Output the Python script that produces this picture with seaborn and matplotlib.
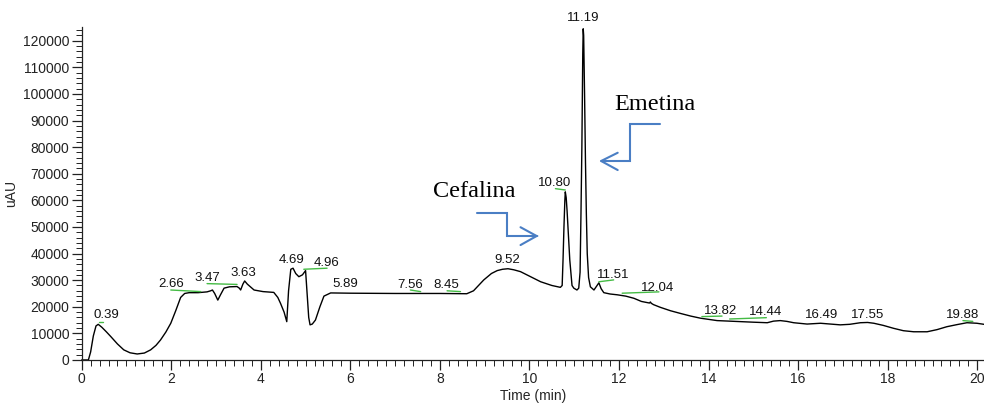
import numpy as np
import pandas as pd
import matplotlib
matplotlib.use('Agg')
import matplotlib.pyplot as plt
from matplotlib.ticker import MultipleLocator, StrMethodFormatter
import seaborn as sns

# Chromatogram trace (time in min, signal in uAU)
time = [
    0.00, 0.15, 0.20, 0.26, 0.32, 0.37, 0.45, 0.55, 0.65, 0.80,
    0.94, 1.08, 1.24, 1.40, 1.54, 1.66, 1.76, 1.88, 1.99, 2.10,
    2.21, 2.30, 2.40, 2.60, 2.80, 2.88, 2.92, 2.97, 3.04, 3.10,
    3.18, 3.30, 3.47, 3.52, 3.55, 3.60, 3.64, 3.70, 3.85, 4.05,
    4.29, 4.38, 4.44, 4.52, 4.58, 4.62, 4.67, 4.72, 4.78, 4.85,
    4.93, 5.00, 5.03, 5.07, 5.10, 5.15, 5.22, 5.32, 5.41, 5.56,
    6.00, 7.00, 8.00, 8.60, 8.75, 8.98, 9.15, 9.28, 9.40, 9.52,
    9.65, 9.80, 10.00, 10.25, 10.50, 10.69, 10.73, 10.75, 10.77, 10.79,
    10.80, 10.82, 10.84, 10.86, 10.90, 10.95, 10.99, 11.06, 11.10, 11.13,
    11.15, 11.17, 11.19, 11.20, 11.21, 11.23, 11.25, 11.27, 11.29, 11.32,
    11.36, 11.44, 11.50, 11.55, 11.60, 11.66, 11.80, 11.96, 12.15, 12.33,
    12.50, 12.68, 12.70, 12.72, 12.77, 12.92, 13.15, 13.37, 13.60, 13.82,
    14.19, 14.45, 14.71, 15.00, 15.31, 15.45, 15.60, 15.75, 15.90, 16.20,
    16.50, 16.94, 17.15, 17.39, 17.55, 17.69, 17.90, 18.13, 18.35, 18.58,
    18.88, 19.10, 19.32, 19.55, 19.77, 19.99, 20.15,
]
signal = [
    0, 0, 3000, 9000, 12800, 13400, 12300, 10600, 8800, 6000,
    3800, 2700, 2250, 2600, 3800, 5500, 7500, 10500, 13800, 18500,
    23500, 25000, 25300, 25300, 25600, 26000, 26300, 25000, 22500, 24500,
    27000, 27500, 27600, 27000, 26300, 28500, 29700, 28500, 26300, 25700,
    25400, 23500, 21300, 18000, 14400, 26000, 34100, 34500, 32500, 31300,
    32000, 33600, 26000, 16000, 13200, 13500, 15000, 20000, 24000, 25200,
    25100, 25000, 25000, 24900, 26000, 30100, 32500, 33600, 34100, 34300,
    33900, 33200, 31500, 29400, 28000, 27300, 28000, 38000, 50000, 60000,
    63200, 61000, 56000, 50000, 37600, 28000, 27000, 26300, 27000, 33000,
    55000, 80000, 115000, 124500, 122000, 100000, 75000, 55000, 40000, 31000,
    27500, 26300, 27800, 29000, 26800, 25300, 24800, 24500, 24000, 23200,
    22000, 21400, 21800, 21300, 20800, 19800, 18500, 17500, 16500, 15700,
    14800, 14600, 14400, 14200, 14000, 14600, 14800, 14500, 14000, 13500,
    13800, 13200, 13400, 14000, 14100, 13800, 13000, 11900, 11000, 10600,
    10600, 11400, 12500, 13300, 14000, 13800, 13400,
]

# Peak retention-time labels and where their text sits
peak_labels = ['0.39', '2.66', '3.47', '3.63', '4.69', '4.96', '5.89', '7.56',
               '8.45', '9.52', '10.80', '11.19', '11.51', '12.04', '13.82',
               '14.44', '16.49', '17.55', '19.88']
label_x = [0.55, 1.99, 2.81, 3.62, 4.68, 5.47, 5.89, 7.33, 8.14, 9.51,
           10.57, 11.19, 11.87, 12.87, 14.27, 15.27, 16.52, 17.55, 19.68]
label_y = [16800, 28400, 30700, 32700, 37600, 36500, 28500, 28200, 28200,
           37600, 66500, 128500, 32000, 27200, 18500, 17900, 16900, 16900,
           16900]

# Green integration baselines (start time, end time, start level, end level)
base_t0 = [0.38, 1.99, 2.80, 4.96, 7.34, 8.16, 10.58, 11.55, 12.07, 13.85, 14.47, 19.68]
base_t1 = [0.47, 2.66, 3.47, 5.48, 7.57, 8.46, 10.80, 11.88, 12.89, 14.30, 15.29, 19.90]
base_y0 = [14400, 26300, 28700, 34100, 26300, 26000, 64400, 29400, 25100, 16300, 15400, 14800]
base_y1 = [14400, 25700, 28400, 34500, 25700, 25700, 63900, 30100, 25600, 16500, 15900, 14500]

# Compound names with callout arrows
compounds = ['Cefalina', 'Emetina']
compound_x = [8.77, 12.79]
compound_y = [63200, 96200]
arrow_path_t = [[8.82, 9.49, 9.49, 10.16], [12.91, 12.24, 12.24, 11.60]]
arrow_path_y = [[55150, 55150, 46500, 46500], [88600, 88600, 74800, 74800]]
arrow_wing_t = [[9.80, 10.16, 9.80], [11.97, 11.60, 11.97]]
arrow_wing_y = [[49900, 46600, 43200], [77900, 74800, 71400]]

df = pd.DataFrame({'time': time, 'signal': signal})

sns.set_theme(style='ticks')
plt.rcParams['font.family'] = ['Liberation Sans', 'DejaVu Sans']

fig = plt.figure(figsize=(9.84, 4.04), dpi=100)
ax = fig.add_axes([0.083, 0.109, 0.917, 0.823])

sns.lineplot(data=df, x='time', y='signal', color='black', linewidth=1.0,
             estimator=None, sort=False, ax=ax, clip_on=False)

for t0, t1, y0, y1 in zip(base_t0, base_t1, base_y0, base_y1):
    ax.plot([t0, t1], [y0, y1], color='#44bb44', linewidth=1.0)

for lab, lx, ly in zip(peak_labels, label_x, label_y):
    ax.text(lx, ly, lab, ha='center', va='center', fontsize=9.5, color='#111111')

blue = '#4a7ec4'
for name, cx, cy, pt, py, wt, wy in zip(compounds, compound_x, compound_y,
                                        arrow_path_t, arrow_path_y,
                                        arrow_wing_t, arrow_wing_y):
    ax.text(cx, cy, name, ha='center', va='center', fontsize=17.5,
            family=['Liberation Serif', 'DejaVu Serif'], color='black')
    ax.plot(pt, py, color=blue, linewidth=1.5, solid_joinstyle='miter')
    ax.plot(wt, wy, color=blue, linewidth=1.5, solid_joinstyle='miter')

ax.set_xlim(0, 20.15)
ax.set_ylim(0, 125000)
ax.xaxis.set_major_locator(MultipleLocator(2))
ax.xaxis.set_minor_locator(MultipleLocator(0.2))
ax.yaxis.set_major_locator(MultipleLocator(10000))
ax.yaxis.set_minor_locator(MultipleLocator(2000))
ax.yaxis.set_major_formatter(StrMethodFormatter('{x:.0f}'))
ax.tick_params(which='major', direction='out', length=7, width=0.9,
               labelsize=10, pad=2, colors='#222222')
ax.tick_params(which='minor', direction='out', length=4, width=0.7, colors='#222222')
sns.despine(ax=ax)
for s in ['left', 'bottom']:
    ax.spines[s].set_color('#222222')
    ax.spines[s].set_linewidth(0.9)

ax.set_xlabel('Time (min)', fontsize=10, labelpad=2)
ax.set_ylabel('uAU', fontsize=10, labelpad=3)

fig.savefig('out.png', dpi=100)
